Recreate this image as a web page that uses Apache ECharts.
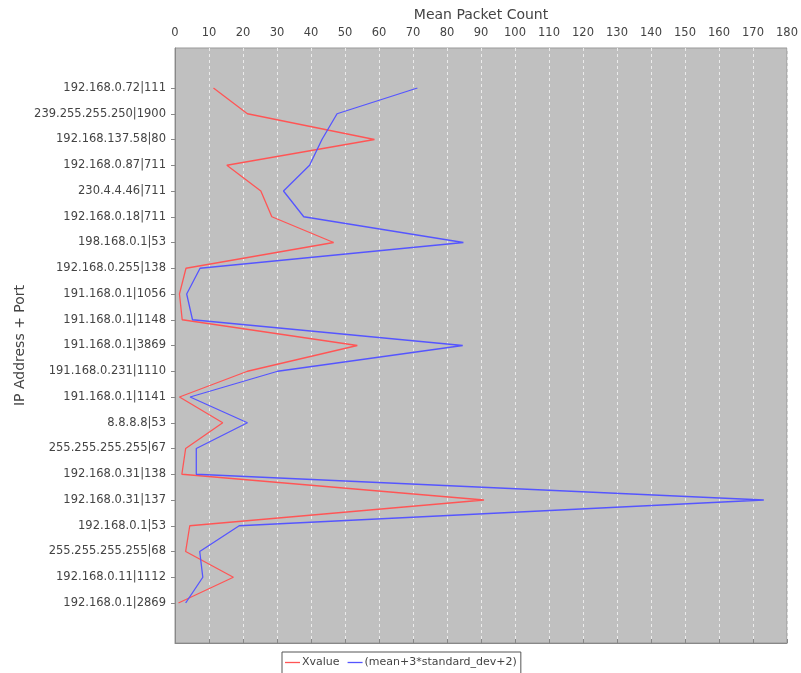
<!DOCTYPE html>
<html><head><meta charset="utf-8">
<script src="https://cdn.jsdelivr.net/npm/echarts@6/dist/echarts.min.js"></script>
<style>html,body{margin:0;padding:0;background:#fff}#c{width:801px;height:673px}</style>
</head><body><div id="c"></div>
<script>
const categories = [
  '192.168.0.72|111', '239.255.255.250|1900', '192.168.137.58|80', '192.168.0.87|711',
  '230.4.4.46|711', '192.168.0.18|711', '198.168.0.1|53', '192.168.0.255|138',
  '191.168.0.1|1056', '191.168.0.1|1148', '191.168.0.1|3869', '191.168.0.231|1110',
  '191.168.0.1|1141', '8.8.8.8|53', '255.255.255.255|67', '192.168.0.31|138',
  '192.168.0.31|137', '192.168.0.1|53', '255.255.255.255|68', '192.168.0.11|1112',
  '192.168.0.1|2869'
];
const xvalue = [11.2, 21.1, 58.1, 15.1, 25.0, 28.2, 46.2, 3.2, 1.3, 2.1, 53.1, 21.1, 1.3, 13.9, 3.1, 2.0, 90.0, 4.3, 3.1, 17.0, 1.0];
const threshold = [70.6, 47.2, 42.8, 39.2, 31.6, 37.5, 84.0, 7.3, 3.4, 5.1, 83.8, 29.9, 4.4, 21.1, 6.2, 6.2, 171.5, 18.7, 7.2, 8.1, 3.1];
const seriesNames = ['Xvalue', '(mean+3*standard_dev+2)'];
const xMin = 0, xMax = 180, xStep = 10;

const chart = echarts.init(document.getElementById('c'), null, {renderer: 'canvas'});
const font = 'DejaVu Sans';
const axisGray = '#888';
const textGray = '#444';
const option = {
  animation: false,
  textStyle: {fontFamily: font},
  grid: [
    {left: 175, right: 8, top: 48, bottom: 30, show: true, backgroundColor: '#c0c0c0', borderColor: '#999', borderWidth: 1},
    {left: 175, right: 8, top: 88, bottom: 70}
  ],
  xAxis: [
    {gridIndex: 0, type: 'value', position: 'top', min: xMin, max: xMax, interval: xStep, offset: 4,
     name: 'Mean Packet Count', nameLocation: 'middle', nameGap: 22,
     nameTextStyle: {fontSize: 14, color: textGray, fontFamily: font},
     axisLine: {show: true, lineStyle: {color: axisGray}},
     axisTick: {show: true, length: 4, lineStyle: {color: axisGray}},
     axisLabel: {fontSize: 11.5, color: textGray, margin: 5, fontFamily: font},
     splitLine: {show: true, lineStyle: {color: '#ebebeb', type: [3, 3], width: 1}}},
    {gridIndex: 1, type: 'value', min: xMin, max: xMax, show: false}
  ],
  yAxis: [
    {gridIndex: 0, type: 'value', min: 0, max: 1, offset: 3,
     name: 'IP Address + Port', nameLocation: 'middle', nameGap: 145, nameRotate: 90,
     nameTextStyle: {fontSize: 14, color: textGray, fontFamily: font},
     axisLine: {show: true, lineStyle: {color: axisGray}},
     axisTick: {show: false}, axisLabel: {show: false}, splitLine: {show: false}},
    {gridIndex: 1, type: 'category', data: categories, inverse: true, boundaryGap: false, offset: 3,
     axisLine: {show: false},
     axisTick: {show: true, length: 4, lineStyle: {color: axisGray}},
     axisLabel: {fontSize: 11.5, color: textGray, margin: 6, interval: 0, fontFamily: font},
     splitLine: {show: false}}
  ],
  legend: {
    left: 282, top: 652, orient: 'horizontal',
    padding: [5, 4, 9, 3], itemGap: 8, itemWidth: 15, itemHeight: 1.3,
    icon: 'rect',
    backgroundColor: '#fff', borderColor: '#555', borderWidth: 1, borderRadius: 0,
    textStyle: {fontSize: 11, color: textGray, fontFamily: font, padding: [0, 0, 0, -3]},
    data: seriesNames
  },
  series: [
    {name: seriesNames[0], type: 'line', xAxisIndex: 1, yAxisIndex: 1, data: xvalue, symbol: 'none',
     lineStyle: {color: '#ff5555', width: 1.3}, itemStyle: {color: '#ff5555'}},
    {name: seriesNames[1], type: 'line', xAxisIndex: 1, yAxisIndex: 1, data: threshold, symbol: 'none',
     lineStyle: {color: '#5555ff', width: 1.3}, itemStyle: {color: '#5555ff'}}
  ]
};
chart.setOption(option);
</script>
</body></html>
